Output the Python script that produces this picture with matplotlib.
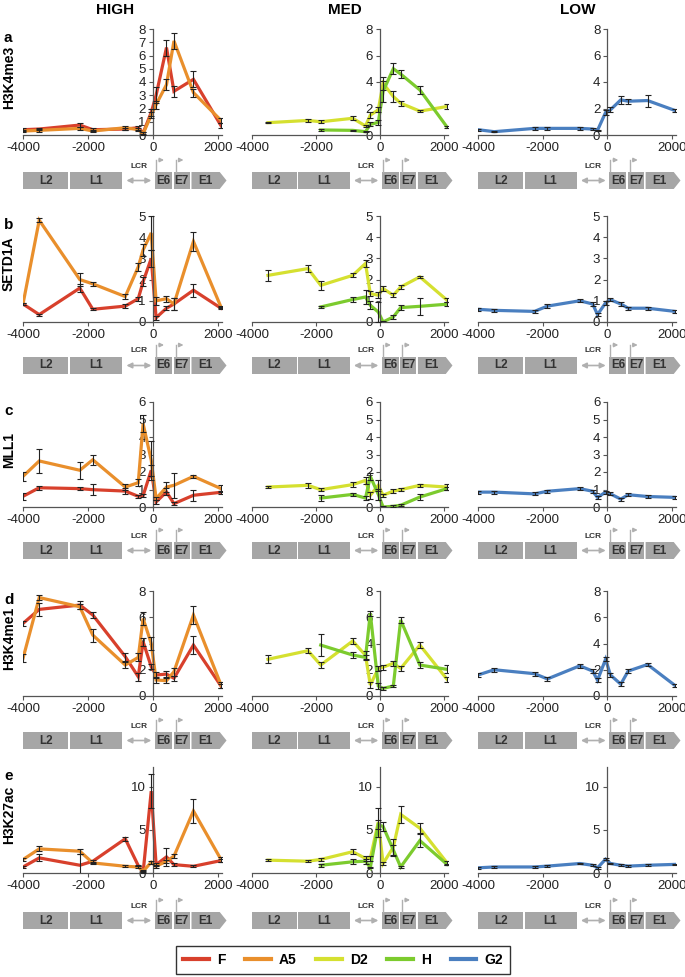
import matplotlib.pyplot as plt
from matplotlib.lines import Line2D
from matplotlib.patches import Rectangle, Polygon, FancyArrowPatch

plt.rcParams['font.family'] = ['Liberation Sans', 'DejaVu Sans']
plt.rcParams['axes.unicode_minus'] = False

# amplicon positions relative to E6 start (bp)
pos = [-4000, -3500, -2250, -1850, -850, -450, -300, -50, 100, 420, 650, 1250, 2100]
pos_d2 = pos[1:]
pos_h = pos[3:]

marks = ['H3K4me3', 'SETD1A', 'MLL1', 'H3K4me1', 'H3K27ac']
panel_letters = ['a', 'b', 'c', 'd', 'e']
groups = ['HIGH', 'MED', 'LOW']
lines = ['F', 'A5', 'D2', 'H', 'G2']
colors = {'F': '#d8402c', 'A5': '#e98f2c', 'D2': '#d5e030', 'H': '#7ccb2e', 'G2': '#4a7fc0'}

# H3K4me3
k4me3_F = [0.4, 0.45, 0.75, 0.4, 0.45, 0.55, 0.15, 1.7, 3.0, 6.6, 3.3, 4.2, 0.7]
k4me3_F_err = [0.1, 0.1, 0.15, 0.1, 0.1, 0.15, 0.1, 0.3, 0.6, 0.6, 0.4, 0.6, 0.2]
k4me3_A5 = [0.3, 0.35, 0.5, 0.3, 0.55, 0.4, 0.1, 1.5, 2.3, 3.8, 7.1, 3.2, 1.1]
k4me3_A5_err = [0.1, 0.1, 0.1, 0.1, 0.15, 0.1, 0.1, 0.2, 0.3, 0.4, 0.6, 0.3, 0.2]
k4me3_D2 = [0.93, 1.1, 1.0, 1.26, 0.68, 1.5, 1.9, 3.9, 2.9, 2.4, 1.8, 2.15]
k4me3_D2_err = [0.05, 0.1, 0.1, 0.15, 0.1, 0.2, 0.2, 0.5, 0.4, 0.2, 0.1, 0.2]
k4me3_H = [0.38, 0.35, 0.25, 0.8, 0.95, 3.3, 5.0, 4.6, 3.4, 0.6]
k4me3_H_err = [0.05, 0.05, 0.05, 0.15, 0.2, 0.8, 0.4, 0.3, 0.3, 0.1]
k4me3_G2 = [0.4, 0.25, 0.5, 0.5, 0.5, 0.45, 0.35, 1.7, 1.9, 2.65, 2.55, 2.6, 1.85]
k4me3_G2_err = [0.08, 0.05, 0.1, 0.1, 0.1, 0.05, 0.05, 0.2, 0.2, 0.3, 0.2, 0.45, 0.15]

# SETD1A
setd1a_F = [0.85, 0.35, 1.6, 0.6, 0.75, 1.1, 1.9, 3.0, 0.2, 0.65, 0.85, 1.5, 0.65]
setd1a_F_err = [0.05, 0.05, 0.2, 0.05, 0.1, 0.1, 0.2, 0.4, 0.1, 0.1, 0.3, 0.3, 0.05]
setd1a_A5 = [0.85, 4.8, 2.0, 1.8, 1.2, 2.6, 3.4, 4.2, 1.0, 1.1, 0.85, 3.8, 0.7]
setd1a_A5_err = [0.05, 0.1, 0.3, 0.1, 0.1, 0.2, 0.3, 0.8, 0.2, 0.15, 0.3, 0.45, 0.05]
setd1a_D2 = [2.2, 2.52, 1.73, 2.2, 2.76, 1.34, 1.26, 1.58, 1.26, 1.65, 2.13, 1.03]
setd1a_D2_err = [0.25, 0.15, 0.2, 0.1, 0.15, 0.1, 0.15, 0.1, 0.1, 0.1, 0.05, 0.1]
setd1a_H = [0.71, 1.06, 1.18, 0.79, 0.47, 0.0, 0.24, 0.68, 0.74, 0.84]
setd1a_H_err = [0.05, 0.1, 0.35, 0.2, 0.45, 0.05, 0.1, 0.1, 0.4, 0.1]
setd1a_G2 = [0.6, 0.55, 0.5, 0.75, 1.0, 0.85, 0.35, 0.9, 1.05, 0.85, 0.65, 0.65, 0.5]
setd1a_G2_err = [0.08] * 13

# MLL1
mll1_F = [0.61, 1.1, 1.05, 0.99, 0.91, 0.61, 0.65, 2.1, 0.29, 0.86, 0.19, 0.67, 0.84]
mll1_F_err = [0.2, 0.1, 0.1, 0.3, 0.15, 0.1, 0.1, 0.3, 0.1, 0.2, 0.1, 0.3, 0.1]
mll1_A5 = [1.75, 2.63, 2.1, 2.7, 1.14, 1.39, 4.76, 2.67, 0.48, 1.14, 1.24, 1.75, 1.05]
mll1_A5_err = [0.25, 0.7, 0.5, 0.3, 0.15, 0.2, 0.5, 1.1, 0.1, 0.3, 0.7, 0.1, 0.2]
mll1_D2 = [1.14, 1.24, 0.99, 1.28, 1.52, 0.67, 1.24, 0.67, 0.91, 0.99, 1.24, 1.14]
mll1_D2_err = [0.05, 0.15, 0.1, 0.15, 0.2, 0.2, 0.3, 0.1, 0.1, 0.1, 0.1, 0.15]
mll1_H = [0.51, 0.72, 0.51, 1.75, 0.72, 0.0, 0.04, 0.1, 0.57, 1.05]
mll1_H_err = [0.15, 0.1, 0.1, 0.2, 0.3, 0.05, 0.05, 0.05, 0.15, 0.1]
mll1_G2 = [0.85, 0.85, 0.75, 0.9, 1.05, 0.9, 0.55, 0.85, 0.75, 0.45, 0.7, 0.6, 0.55]
mll1_G2_err = [0.08] * 13

# H3K4me1
k4me1_F = [5.53, 6.6, 6.93, 6.17, 3.0, 1.47, 4.14, 2.23, 1.6, 1.67, 1.35, 3.88, 0.76]
k4me1_F_err = [0.2, 0.5, 0.3, 0.2, 0.3, 0.3, 0.3, 0.2, 0.2, 0.2, 0.2, 0.7, 0.15]
k4me1_A5 = [2.87, 7.5, 6.8, 4.64, 2.36, 2.94, 5.9, 4.0, 1.22, 1.17, 1.85, 6.17, 0.84]
k4me1_A5_err = [0.3, 0.2, 0.2, 0.5, 0.2, 0.3, 0.5, 0.5, 0.2, 0.2, 0.3, 0.7, 0.2]
k4me1_D2 = [2.8, 3.45, 2.36, 4.19, 3.1, 0.84, 2.1, 2.2, 2.49, 2.1, 3.88, 1.27]
k4me1_D2_err = [0.3, 0.2, 0.2, 0.2, 0.3, 0.2, 0.2, 0.2, 0.2, 0.2, 0.2, 0.2]
k4me1_H = [3.88, 3.12, 2.94, 6.3, 0.76, 0.58, 0.76, 5.79, 2.36, 2.03]
k4me1_H_err = [0.85, 0.2, 0.2, 0.2, 0.2, 0.1, 0.1, 0.2, 0.2, 0.3]
k4me1_G2 = [1.6, 2.0, 1.7, 1.3, 2.3, 1.9, 1.2, 2.8, 1.6, 0.9, 1.9, 2.4, 0.8]
k4me1_G2_err = [0.15] * 13

# H3K27ac
k27ac_F = [0.7, 1.75, 0.9, 1.36, 3.97, 0.86, 0.08, 9.5, 0.97, 1.87, 0.97, 0.78, 1.44]
k27ac_F_err = [0.1, 0.4, 1.3, 0.2, 0.2, 0.1, 0.1, 2.0, 0.2, 1.0, 0.2, 0.1, 0.2]
k27ac_A5 = [1.56, 2.8, 2.53, 1.17, 0.78, 0.7, 0.2, 1.25, 0.78, 1.36, 1.95, 7.2, 1.56]
k27ac_A5_err = [0.2, 0.3, 0.3, 0.1, 0.1, 0.1, 0.1, 0.2, 0.2, 0.2, 0.2, 1.4, 0.3]
k27ac_D2 = [1.49, 1.37, 1.57, 2.47, 1.69, 1.7, 5.9, 1.1, 3.0, 6.8, 5.2, 1.18]
k27ac_D2_err = [0.1, 0.1, 0.2, 0.3, 0.3, 0.3, 1.7, 0.2, 1.0, 1.0, 0.6, 0.2]
k27ac_H = [0.9, 1.3, 1.37, 0.63, 5.6, 5.4, 2.67, 0.7, 3.76, 1.0]
k27ac_H_err = [0.2, 0.3, 0.3, 0.1, 0.5, 0.5, 0.6, 0.1, 0.8, 0.1]
k27ac_G2 = [0.6, 0.7, 0.7, 0.8, 1.1, 0.9, 0.6, 1.6, 1.1, 0.9, 0.8, 0.9, 1.0]
k27ac_G2_err = [0.1] * 13

series = {
    'H3K4me3': {'F': (k4me3_F, k4me3_F_err), 'A5': (k4me3_A5, k4me3_A5_err), 'D2': (k4me3_D2, k4me3_D2_err),
                'H': (k4me3_H, k4me3_H_err), 'G2': (k4me3_G2, k4me3_G2_err)},
    'SETD1A': {'F': (setd1a_F, setd1a_F_err), 'A5': (setd1a_A5, setd1a_A5_err), 'D2': (setd1a_D2, setd1a_D2_err),
               'H': (setd1a_H, setd1a_H_err), 'G2': (setd1a_G2, setd1a_G2_err)},
    'MLL1': {'F': (mll1_F, mll1_F_err), 'A5': (mll1_A5, mll1_A5_err), 'D2': (mll1_D2, mll1_D2_err),
             'H': (mll1_H, mll1_H_err), 'G2': (mll1_G2, mll1_G2_err)},
    'H3K4me1': {'F': (k4me1_F, k4me1_F_err), 'A5': (k4me1_A5, k4me1_A5_err), 'D2': (k4me1_D2, k4me1_D2_err),
                'H': (k4me1_H, k4me1_H_err), 'G2': (k4me1_G2, k4me1_G2_err)},
    'H3K27ac': {'F': (k27ac_F, k27ac_F_err), 'A5': (k27ac_A5, k27ac_A5_err), 'D2': (k27ac_D2, k27ac_D2_err),
                'H': (k27ac_H, k27ac_H_err), 'G2': (k27ac_G2, k27ac_G2_err)},
}
x_of = {'F': pos, 'A5': pos, 'D2': pos_d2, 'H': pos_h, 'G2': pos}
group_lines = {'HIGH': ['F', 'A5'], 'MED': ['D2', 'H'], 'LOW': ['G2']}

ylims = [8, 5, 6, 8, 12.3]
yticks_high = [range(0, 9), range(0, 6), range(0, 7), range(0, 9, 2), [0, 5, 10]]
yticks_other = [range(0, 9, 2), range(0, 6), range(0, 7), range(0, 9, 2), [0, 5, 10]]

W, H = 685, 977
fig = plt.figure(figsize=(W / 100, H / 100), dpi=100)


def px_axes(left, top, width, height):
    return fig.add_axes([left / W, 1 - (top + height) / H, width / W, height / H])


col_left = [23, 252, 478]
col_width = [199, 196, 198]
row_top = [29, 216, 402, 591, 767]
row_bot = [135, 322, 507, 696, 873]
gene_top = [172, 357, 542, 732, 912]
title_x = [115, 345, 578]
XMIN, XMAX = -4000, 2130
grey = '#a6a6a6'


def draw_gene(ax):
    ax.set_xlim(XMIN, XMAX)
    ax.set_ylim(0, 37)
    ax.axis('off')
    boxes = [('L2', -4000, -2600), ('L1', -2560, -950), ('E6', 70, 590), ('E7', 640, 1140)]
    for name, a, b in boxes:
        ax.add_patch(Rectangle((a, 0), b - a, 17, color=grey, lw=0, clip_on=False))
        ax.text((a + b) / 2, 8.5, name, ha='center', va='center', fontsize=8.5,
                fontweight='bold', color='#333333')
    ax.add_patch(Polygon([(1190, 0), (2060, 0), (2270, 8.5), (2060, 17), (1190, 17)],
                         closed=True, color=grey, lw=0, clip_on=False))
    ax.text(1620, 8.5, 'E1', ha='center', va='center', fontsize=8.5, fontweight='bold', color='#333333')
    ax.add_patch(FancyArrowPatch((-900, 8.5), (40, 8.5), arrowstyle='<|-|>', mutation_scale=8,
                                 color='#b0b0b0', lw=1.2, clip_on=False))
    ax.text(-430, 23, 'LCR', ha='center', va='center', fontsize=6, fontweight='bold', color='#333333')
    for x0 in (100, 700):
        ax.plot([x0, x0], [17, 29], color='#b0b0b0', lw=1.0, clip_on=False)
        ax.add_patch(FancyArrowPatch((x0, 29), (x0 + 330, 29), arrowstyle='-|>', mutation_scale=6,
                                     color='#b0b0b0', lw=1.0, clip_on=False))


for r, mark in enumerate(marks):
    for c, grp in enumerate(groups):
        ax = px_axes(col_left[c], row_top[r], col_width[c], row_bot[r] - row_top[r])
        for ln in group_lines[grp]:
            vals, err = series[mark][ln]
            ax.plot(x_of[ln], vals, color=colors[ln], lw=2.3, zorder=2, solid_joinstyle='miter')
            ax.errorbar(x_of[ln], vals, yerr=err, fmt='none', ecolor='#222222', elinewidth=0.8,
                        capsize=2.2, capthick=0.8, zorder=3)
        ax.set_xlim(XMIN, XMAX)
        ax.set_ylim(0, ylims[r])
        ax.spines['left'].set_position(('data', 0))
        for s in ('top', 'right'):
            ax.spines[s].set_visible(False)
        for s in ('left', 'bottom'):
            ax.spines[s].set_color('#555555')
            ax.spines[s].set_linewidth(0.9)
        ax.set_xticks([-4000, -2000, 0, 2000])
        ax.set_yticks(list(yticks_high[r] if c == 0 else yticks_other[r]))
        ax.tick_params(axis='both', labelsize=9.5, colors='#555555', labelcolor='#222222',
                       length=3, width=0.8, pad=2)
        ax.set_facecolor('none')

        gax = px_axes(col_left[c], gene_top[r] - 20, col_width[c], 37)
        draw_gene(gax)

        if r == 0:
            fig.text(title_x[c] / W, 1 - 10 / H, grp, ha='center', va='center',
                     fontsize=11, fontweight='bold')
    fig.text(4 / W, 1 - (row_top[r] + 9) / H, panel_letters[r], ha='left', va='center',
             fontsize=11, fontweight='bold')
    fig.text(9 / W, 1 - ((row_top[r] + row_bot[r]) / 2 - 5) / H, mark, ha='center', va='center',
             rotation=90, fontsize=10, fontweight='bold')

handles = [Line2D([0], [0], color=colors[ln], lw=3) for ln in lines]
fig.legend(handles, lines, loc='center', bbox_to_anchor=(343 / W, 1 - 960 / H), ncol=5,
           prop={'weight': 'bold', 'size': 10}, frameon=True, fancybox=False, edgecolor='black',
           handlelength=1.85, columnspacing=1.4, handletextpad=0.6, borderpad=0.5)
fig.legends[0].get_frame().set_linewidth(1.0)

fig.savefig('out.png', dpi=100)
